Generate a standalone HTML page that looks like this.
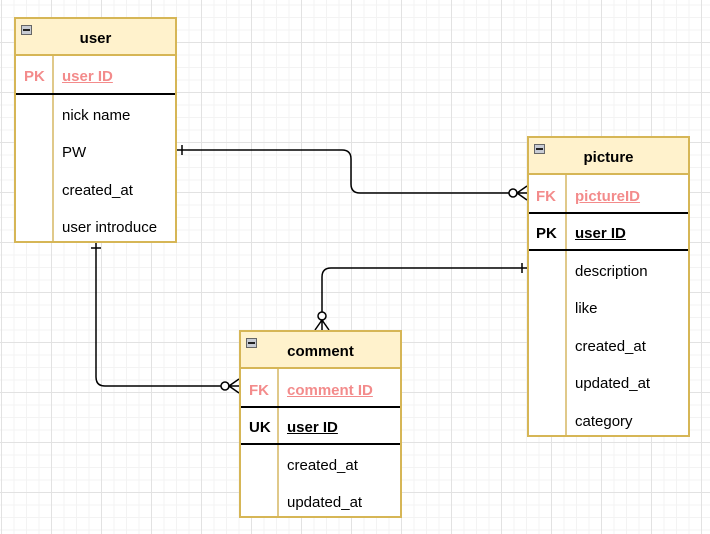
<!DOCTYPE html>
<html><head><style>
body{margin:0;width:710px;height:534px;overflow:hidden;position:relative;font-family:"Liberation Sans",sans-serif;
background-color:#fff;
background-image:
linear-gradient(#e2e2e2 1px,transparent 1px),linear-gradient(90deg,#e2e2e2 1px,transparent 1px),
linear-gradient(#f3f3f3 1px,transparent 1px),linear-gradient(90deg,#f3f3f3 1px,transparent 1px);
background-size:50px 50px,50px 50px,12.5px 12.5px,12.5px 12.5px;
background-position:0 42px,1px 0,0 4.5px,1px 0;}
.t{position:absolute;border:2px solid #d6b656;background:#fff;box-sizing:border-box}
.h{position:absolute;left:0;right:0;top:0;height:37px;background:#fff2cc;border-bottom:2px solid #d6b656;box-sizing:border-box;font-weight:bold;font-size:15px;text-align:center;line-height:40px}
.m{position:absolute;left:5px;top:6px;width:11px;height:10px;background:#c8ccd4;border:1px solid #666;box-sizing:border-box}
.m:after{content:"";position:absolute;left:1px;right:1px;top:3px;height:1.5px;background:#222}
.c{position:absolute;top:37px;bottom:0;width:2px;background:#e0c98a}
.r{position:absolute;font-size:15px;line-height:20px}
.k{position:absolute;font-size:15px;font-weight:bold;line-height:20px}
.pk{color:#f38b8b}
.u{text-decoration:underline;font-weight:bold}
.l{position:absolute;left:0;right:0;height:2px;background:#000}
</style></head><body>
<svg width="710" height="534" style="position:absolute;left:0;top:0" fill="none" stroke="#000" stroke-width="1.5">
<path d="M177 150 H342 Q351 150 351 159 V184 Q351 193 360 193 H510"/>
<line x1="182" y1="145" x2="182" y2="155"/>
<circle cx="513" cy="193" r="4" fill="#fff"/>
<path d="M527 186 L517 193 L527 200 M517 193 H527"/>
<path d="M96 243 V377 Q96 386 105 386 H222"/>
<line x1="91" y1="248" x2="101" y2="248"/>
<circle cx="225" cy="386" r="4" fill="#fff"/>
<path d="M239 379 L229 386 L239 393 M229 386 H239"/>
<path d="M527 268 H331 Q322 268 322 277 V313"/>
<line x1="522" y1="263" x2="522" y2="273"/>
<circle cx="322" cy="316" r="4" fill="#fff"/>
<path d="M315 330 L322 320 L329 330 M322 320 V330"/>
</svg>

<div class="t" style="left:14px;top:17px;width:163px;height:226px">
<div class="h">user</div><div class="m"></div>
<div class="c" style="left:36px"></div>
<div class="k pk" style="left:8px;top:48px">PK</div>
<div class="r pk u" style="left:46px;top:48px">user ID</div>
<div class="l" style="top:74px"></div>
<div class="r" style="left:46px;top:87px">nick name</div>
<div class="r" style="left:46px;top:124px">PW</div>
<div class="r" style="left:46px;top:162px">created_at</div>
<div class="r" style="left:46px;top:199px">user introduce</div>
</div>

<div class="t" style="left:527px;top:136px;width:163px;height:301px">
<div class="h">picture</div><div class="m"></div>
<div class="c" style="left:36px"></div>
<div class="k pk" style="left:7px;top:49px">FK</div>
<div class="r pk u" style="left:46px;top:49px">pictureID</div>
<div class="l" style="top:74px"></div>
<div class="k" style="left:7px;top:86px">PK</div>
<div class="r u" style="left:46px;top:86px">user ID</div>
<div class="l" style="top:111px"></div>
<div class="r" style="left:46px;top:124px">description</div>
<div class="r" style="left:46px;top:161px">like</div>
<div class="r" style="left:46px;top:199px">created_at</div>
<div class="r" style="left:46px;top:236px">updated_at</div>
<div class="r" style="left:46px;top:274px">category</div>
</div>

<div class="t" style="left:239px;top:330px;width:163px;height:188px">
<div class="h">comment</div><div class="m"></div>
<div class="c" style="left:36px"></div>
<div class="k pk" style="left:8px;top:49px">FK</div>
<div class="r pk u" style="left:46px;top:49px">comment ID</div>
<div class="l" style="top:74px"></div>
<div class="k" style="left:8px;top:86px">UK</div>
<div class="r u" style="left:46px;top:86px">user ID</div>
<div class="l" style="top:111px"></div>
<div class="r" style="left:46px;top:124px">created_at</div>
<div class="r" style="left:46px;top:161px">updated_at</div>
</div>
</body></html>
